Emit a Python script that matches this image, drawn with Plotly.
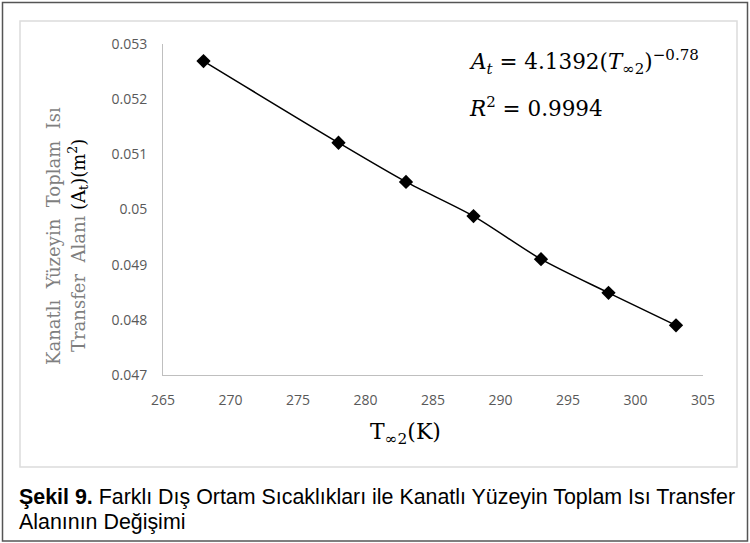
import plotly.graph_objects as go

# Data
temps_K = [268, 278, 283, 288, 293, 298, 303]
area_m2 = [0.05269, 0.05121, 0.05050, 0.04988, 0.04910, 0.04849, 0.04790]
x_ticks = [265, 270, 275, 280, 285, 290, 295, 300, 305]
y_ticks = [0.047, 0.048, 0.049, 0.050, 0.051, 0.052, 0.053]
y_tick_text = ["0.047", "0.048", "0.049", "0.05", "0.051", "0.052", "0.053"]

W, H = 750, 543
L, R, T, B = 163, 703, 44, 375  # plot area in px


def px(x):
    return (x - L) / (R - L)


def py(y):
    return (B - y) / (B - T)


fig = go.Figure()
fig.add_trace(go.Scatter(
    x=temps_K, y=area_m2, mode="lines+markers",
    line=dict(color="black", width=1.5, shape="spline", smoothing=0.8),
    marker=dict(symbol="diamond", size=11, color="black"),
    showlegend=False,
))

serif = "DejaVu Serif"
gray = "#7f7f7f"

fig.update_layout(
    width=W, height=H,
    margin=dict(l=L, r=W - R, t=T, b=H - B, pad=0),
    paper_bgcolor="white", plot_bgcolor="white",
    xaxis=dict(range=[265, 305], tickvals=x_ticks, showgrid=False, zeroline=False,
               showline=True, linecolor="#bfbfbf", linewidth=1,
               ticks="outside", ticklen=12, tickcolor="rgba(0,0,0,0)",
               tickfont=dict(family="Open Sans", size=14, color="#595959")),
    yaxis=dict(range=[0.047, 0.053], tickvals=y_ticks, ticktext=y_tick_text,
               showgrid=False, zeroline=False,
               showline=True, linecolor="#bfbfbf", linewidth=1,
               ticks="outside", ticklen=12, tickcolor="rgba(0,0,0,0)",
               tickfont=dict(family="Open Sans", size=14, color="#595959")),
    shapes=[
        dict(type="rect", xref="paper", yref="paper",
             x0=px(2.5), x1=px(747.5), y0=py(541), y1=py(2.5),
             line=dict(color="#555555", width=1.5), layer="below"),
        dict(type="rect", xref="paper", yref="paper",
             x0=px(20), x1=px(737), y0=py(467), y1=py(21),
             line=dict(color="#dcdcdc", width=1.5), layer="below"),
    ],
)

ann = []
# Y-axis title (two rotated lines)
ann.append(dict(xref="paper", yref="paper", x=px(53), y=py(236),
                text="Kanatlı  Yüzeyin  Toplam  Isı", textangle=-90, showarrow=False,
                xanchor="center", yanchor="middle",
                font=dict(family=serif, size=18, color=gray)))
ann.append(dict(xref="paper", yref="paper", x=px(78), y=py(246),
                text="Transfer  Alanı <span style='color:black'>(A<sub>t</sub>)(m<sup>2</sup>)</span>",
                textangle=-90, showarrow=False, xanchor="center", yanchor="middle",
                font=dict(family=serif, size=18, color=gray)))
# X-axis title
ann.append(dict(xref="paper", yref="paper", x=px(405), y=py(433),
                text="T<sub>∞2</sub>(K)", showarrow=False,
                xanchor="center", yanchor="middle",
                font=dict(family=serif, size=22, color="black")))
# Equation
ann.append(dict(xref="paper", yref="paper", x=px(467), y=py(62),
                text="<i>A<sub>t</sub></i> = 4.1392(<i>T</i><sub>∞2</sub>)<sup>−0.78</sup>",
                showarrow=False, xanchor="left", yanchor="middle",
                font=dict(family=serif, size=21.5, color="black")))
ann.append(dict(xref="paper", yref="paper", x=px(467), y=py(107),
                text="<i>R</i><sup>2</sup> = 0.9994",
                showarrow=False, xanchor="left", yanchor="middle",
                font=dict(family=serif, size=21.5, color="black")))
# Caption
cap_font = dict(family="Liberation Sans", size=21.4, color="black")
ann.append(dict(xref="paper", yref="paper", x=px(17), y=py(497),
                text="<b>Şekil 9.</b> Farklı Dış Ortam Sıcaklıkları ile Kanatlı Yüzeyin Toplam Isı Transfer",
                showarrow=False, xanchor="left", yanchor="middle", font=cap_font))
ann.append(dict(xref="paper", yref="paper", x=px(17), y=py(522),
                text="Alanının Değişimi",
                showarrow=False, xanchor="left", yanchor="middle", font=cap_font))
fig.update_layout(annotations=ann)

fig.write_html("out.html")
